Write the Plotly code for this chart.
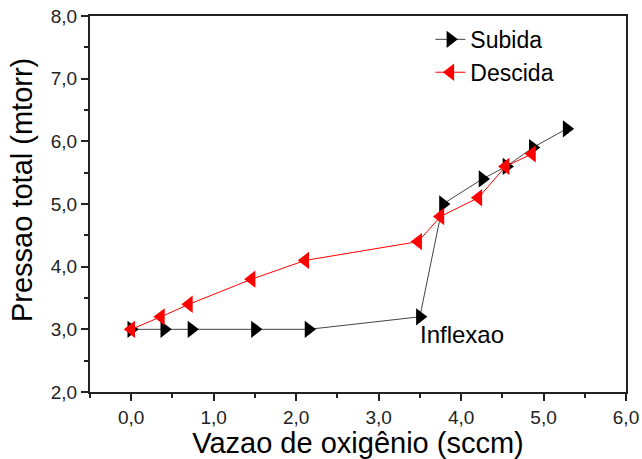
import plotly.graph_objects as go

# Oxygen flow (sccm) vs total pressure (mtorr), increasing and decreasing sweeps
subida_x = [0.0, 0.4, 0.73, 1.5, 2.15, 3.5, 3.78, 4.26, 4.55, 4.87, 5.28]
subida_y = [3.0, 3.0, 3.0, 3.0, 3.0, 3.2, 5.0, 5.4, 5.6, 5.9, 6.2]

descida_x = [4.86, 4.54, 4.21, 3.75, 3.48, 2.11, 1.46, 0.70, 0.36, 0.0]
descida_y = [5.8, 5.6, 5.1, 4.8, 4.4, 4.1, 3.8, 3.4, 3.2, 3.0]

x_ticks = [0, 1, 2, 3, 4, 5, 6]
x_tick_labels = ["0,0", "1,0", "2,0", "3,0", "4,0", "5,0", "6,0"]
y_ticks = [2, 3, 4, 5, 6, 7, 8]
y_tick_labels = ["2,0", "3,0", "4,0", "5,0", "6,0", "7,0", "8,0"]

FONT = "Liberation Sans, Arial, sans-serif"

fig = go.Figure()
fig.add_trace(go.Scatter(
    x=subida_x, y=subida_y, name="Subida", mode="lines+markers",
    line=dict(color="#444444", width=1),
    marker=dict(symbol="triangle-right", size=15, color="black"),
))
fig.add_trace(go.Scatter(
    x=descida_x, y=descida_y, name="Descida", mode="lines+markers",
    line=dict(color="red", width=1),
    marker=dict(symbol="triangle-left", size=15, color="red"),
))

fig.add_annotation(
    x=4.01, y=2.91, xref="x", yref="y", text="Inflexao", showarrow=False,
    font=dict(family=FONT, size=24, color="black"),
)

# Vertical axis title, placed slightly above the plot's mid-height
fig.add_annotation(
    x=-0.127, y=0.537, xref="paper", yref="paper", text="Pressao total (mtorr)",
    textangle=-90, showarrow=False, xanchor="center", yanchor="middle",
    font=dict(family=FONT, size=29, color="black"),
)

axis_common = dict(
    showgrid=False, zeroline=False, showline=True, linecolor="#222222",
    linewidth=2, mirror=True, ticks="outside", ticklen=7, tickwidth=1.5,
    tickcolor="#222222", tickfont=dict(family=FONT, size=19, color="#222222"),
    automargin=False,
)

fig.update_layout(
    width=642, height=459,
    margin=dict(l=90, r=16, t=16, b=67, autoexpand=False),
    paper_bgcolor="white", plot_bgcolor="white",
    showlegend=True,
    legend=dict(
        x=0.635, y=0.995, xanchor="left", yanchor="top",
        bgcolor="rgba(0,0,0,0)", font=dict(family=FONT, size=23, color="black"),
        tracegroupgap=0,
    ),
    xaxis=dict(
        range=[-0.5, 6.0], tickvals=x_ticks, ticktext=x_tick_labels,
        minor=dict(dtick=0.5, ticks="outside", ticklen=4, tickwidth=1.5, tickcolor="#222222"),
        title=dict(text="Vazao de oxigênio (sccm)", font=dict(family=FONT, size=29, color="black"), standoff=6),
        **axis_common,
    ),
    yaxis=dict(
        range=[2.0, 8.0], tickvals=y_ticks, ticktext=y_tick_labels,
        minor=dict(dtick=0.5, ticks="outside", ticklen=4, tickwidth=1.5, tickcolor="#222222"),
        **axis_common,
    ),
)

fig.write_html("out.html")
